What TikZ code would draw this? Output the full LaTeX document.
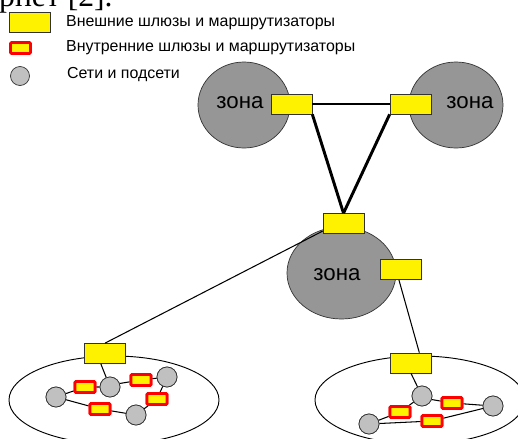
\documentclass[tikz,border=0pt]{standalone}
\usepackage{fontspec}
\setmainfont{Liberation Sans}
\newfontfamily\serifcyr{Liberation Serif}
\usetikzlibrary{shapes.geometric}
\usetikzlibrary{calc}
\definecolor{zonegray}{RGB}{150,150,150}
\definecolor{netgray}{RGB}{192,192,192}
\tikzset{gateway/.style={draw=black!80,fill=yellow,line width=0.6pt,minimum width=1.23cm,minimum height=0.6cm,inner sep=0pt}}
\tikzset{router/.style={draw=red,fill=yellow,line width=2.4pt,rounded corners=1pt,minimum width=0.6cm,minimum height=0.33cm,inner sep=0pt}}
\tikzset{subnet/.style={circle,draw=black!80,fill=netgray,line width=0.6pt,minimum size=0.6cm,inner sep=0pt}}
\tikzset{zone/.style={ellipse,draw=black!80,fill=zonegray,line width=0.6pt,inner sep=0pt}}
\tikzset{site/.style={ellipse,draw=black,line width=0.8pt,inner sep=0pt}}
\tikzset{zonelabel/.style={font=\fontsize{19}{22}\selectfont}}
\tikzset{legendtext/.style={anchor=west,font=\fontsize{13.6}{16}\selectfont}}
\tikzset{trunk/.style={line width=2.5pt}}
\tikzset{link/.style={line width=0.9pt}}

\begin{document}
\begin{tikzpicture}[x=0.03cm,y=-0.03cm]
      \useasboundingbox (0,0) rectangle (518,439);
      \clip (0,0) rectangle (518,439);
      \node[anchor=base west,inner sep=0pt,font=\fontsize{27pt}{30pt}\serifcyr] at (-1,6) (title) {рнет [2].};

      \node[gateway] at (30,22.5) (keygw) {};
      \node[legendtext] at (62,23) (keygwtext) {Внешние шлюзы и маршрутизаторы};
      \node[router] at (20.5,48) (keyrt) {};
      \node[legendtext] at (62,48) (keyrttext) {Внутренние шлюзы и маршрутизаторы};
      \node[subnet,minimum size=0.57cm] at (20,76) (keynet) {};
      \node[legendtext] at (63,75) (keynettext) {Сети и подсети};

      \node[site,minimum width=6.3cm,minimum height=2.64cm] at (114,400) (sitel) {};
      \node[site,minimum width=6.3cm,minimum height=2.64cm] at (420,400) (siter) {};

      \node[zone,minimum width=2.76cm,minimum height=2.58cm] at (244,105) (zonel) {};
      \node[zone,minimum width=2.82cm,minimum height=2.58cm] at (456,105) (zoner) {};
      \node[zone,minimum width=3.27cm,minimum height=2.76cm] at (341.5,273) (zonem) {};
      \node[zonelabel] at (240,103) (zonelt) {зона};
      \node[zonelabel] at (470,103) (zonert) {зона};
      \node[zonelabel] at (337,275) (zonemt) {зона};

      \node[gateway] at (291.5,104) (gwl) {};
      \node[gateway] at (410.5,104) (gwr) {};
      \node[gateway] at (343.5,223.5) (gwm) {};
      \node[gateway] at (401,269.5) (gwmr) {};
      \node[gateway] at (105,353.5) (gwsl) {};
      \node[gateway] at (411,363) (gwsr) {};

      \draw[trunk] (gwl.east) -- (gwr.west);
      \draw[trunk] (gwl.south east) -- (gwm.north);
      \draw[trunk] (gwr.south west) -- (gwm.north);
      \draw[link] (gwm.200) -- (gwsl.north);
      \draw[link] ($(gwmr.south west)!0.45!(gwmr.south east)$) -- ($(gwsr.north west)!0.7!(gwsr.north east)$);

      \node[subnet] at (56,397) (na) {};
      \node[subnet] at (110,387) (nb) {};
      \node[subnet] at (167,377) (nc) {};
      \node[subnet] at (136,415) (nd) {};
      \node[router] at (85,387) (ra) {};
      \node[router] at (141,380) (rb) {};
      \node[router] at (157,399) (rc) {};
      \node[router] at (100,409) (rd) {};
      \draw[link] ($(gwsl.south west)!0.4!(gwsl.south east)$) -- (nb);
      \draw[link] (na) -- (ra) -- (nb);
      \draw[link] (nb.20) -- (rb) -- (nc);
      \draw[link] (nc) -- (rc) -- (nd);
      \draw[link] (nd) -- (rd) -- (na);

      \node[subnet] at (422,396) (ne) {};
      \node[subnet] at (493,406) (nf) {};
      \node[subnet] at (369,424) (ng) {};
      \node[router] at (452,403) (re) {};
      \node[router] at (400,412) (rf) {};
      \node[router] at (432,421) (rg) {};
      \draw[link] (gwsr.south) -- (ne);
      \draw[link] (ne.-20) -- (re) -- (nf);
      \draw[link] (nf) -- (rg) -- (ng);
      \draw[link] (ng) -- (rf) -- (ne);
      \foreach \n in {ra,rb,rc,rd,re,rf,rg} \node[router] at (\n) {};
      \foreach \n in {na,nb,nc,nd,ne,nf,ng} \node[subnet] at (\n) {};
\end{tikzpicture}
\end{document}
